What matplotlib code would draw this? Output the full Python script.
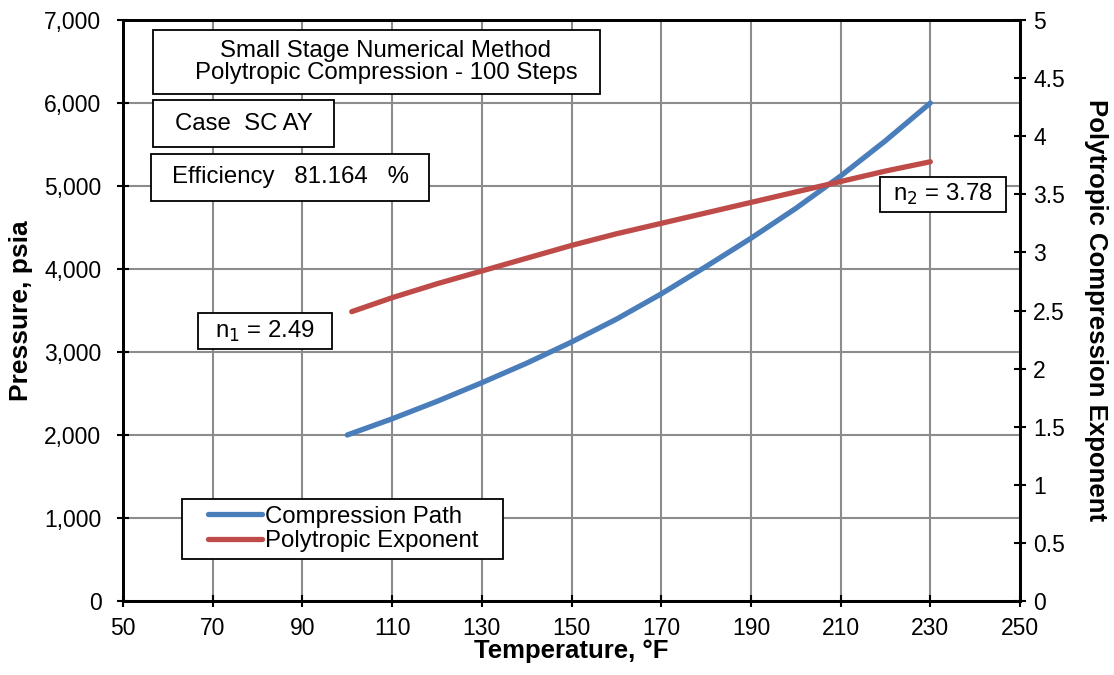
import numpy as np
import matplotlib.pyplot as plt
from matplotlib.patches import Rectangle
from matplotlib.ticker import FuncFormatter

plt.rcParams['font.family'] = ['Liberation Sans', 'DejaVu Sans']

# data
temp_path = [100, 110, 120, 130, 140, 150, 160, 170, 180, 190, 200, 210, 220, 230]
pressure = [2000, 2195, 2405, 2630, 2865, 3120, 3395, 3700, 4030, 4370, 4730, 5120, 5545, 6000]
temp_n = [101, 110, 120, 130, 140, 150, 160, 170, 180, 190, 200, 210, 220, 230]
n_exp = [2.49, 2.61, 2.73, 2.84, 2.95, 3.06, 3.16, 3.25, 3.34, 3.43, 3.52, 3.61, 3.70, 3.78]

x_ticks = np.arange(50, 251, 20)
p_ticks = np.arange(0, 7001, 1000)
n_ticks = np.arange(0, 5.01, 0.5)

blue = '#4A7EBB'
red = '#BE4B48'
W, H = 1114, 675
fs = 17.3

fig = plt.figure(figsize=(W/100, H/100), dpi=100)
ax = fig.add_axes([123/W, 1-601/H, (1020-123)/W, (601-20)/H])
ax2 = ax.twinx()

l1, = ax.plot(temp_path, pressure, color=blue, lw=3.8, solid_capstyle='round')
l2, = ax2.plot(temp_n, n_exp, color=red, lw=3.8, solid_capstyle='round')

ax.set_xlim(50, 250)
ax.set_ylim(0, 7000)
ax2.set_ylim(0, 5)
ax.set_xticks(x_ticks)
ax.set_yticks(p_ticks)
ax2.set_yticks(n_ticks)
ax.yaxis.set_major_formatter(FuncFormatter(lambda v, p: f'{int(v):,}'))
ax2.yaxis.set_major_formatter(FuncFormatter(lambda v, p: f'{v:g}'))

ax.grid(True, color='#8c8c8c', lw=1.5)
ax.set_axisbelow(True)
for a in (ax, ax2):
    for s in a.spines.values():
        s.set_linewidth(2)
    a.tick_params(direction='inout', length=9, width=1.5, labelsize=16.5)
ax.tick_params(axis='x', pad=7)
ax.tick_params(axis='y', pad=11)
ax2.tick_params(axis='y', pad=5)

ax.set_xlabel('Temperature, °F', fontsize=18.5, fontweight='bold', labelpad=-1)
ax.set_ylabel('Pressure, psia', fontsize=19, fontweight='bold', labelpad=8)
ax2.set_ylabel('Polytropic Compression Exponent', fontsize=18.5, fontweight='bold', rotation=270, labelpad=31)


def box(x0, y0, x1, y1, txt, size=fs, tx=None):
    fig.patches.append(Rectangle((x0/W, 1-y1/H), (x1-x0)/W, (y1-y0)/H, transform=fig.transFigure,
                                 fc='white', ec='black', lw=1.3, zorder=5))
    if tx is None:
        tx = (x0+x1)/2
    fig.text(tx/W, 1-(y0+y1)/2/H, txt, ha='center', va='center', fontsize=size,
             linespacing=1.0, zorder=6)


box(153, 30, 600, 94, 'Small Stage Numerical Method\nPolytropic Compression - 100 Steps', tx=386)
box(153, 100, 334, 147, 'Case  SC AY')
box(151, 154, 429, 201, 'Efficiency   81.164   %')
box(198, 313, 332, 349, r'n$_1$ = 2.49')
box(880, 177, 1006, 212, r'n$_2$ = 3.78')

# legend frame drawn separately, wider than its contents
fig.patches.append(Rectangle((182/W, 1-559/H), (503-182)/W, (559-499)/H, transform=fig.transFigure,
                             fc='white', ec='black', lw=1.3, zorder=5))
leg = fig.legend([l1, l2], ['Compression Path', 'Polytropic Exponent'],
                 loc='center left', bbox_to_anchor=(196/W, 1-529/H), fontsize=fs,
                 frameon=False, handlelength=2.25, handletextpad=0.12,
                 borderpad=0.0, labelspacing=0.12)
leg.set_zorder(6)

fig.savefig('out.png', dpi=100)
